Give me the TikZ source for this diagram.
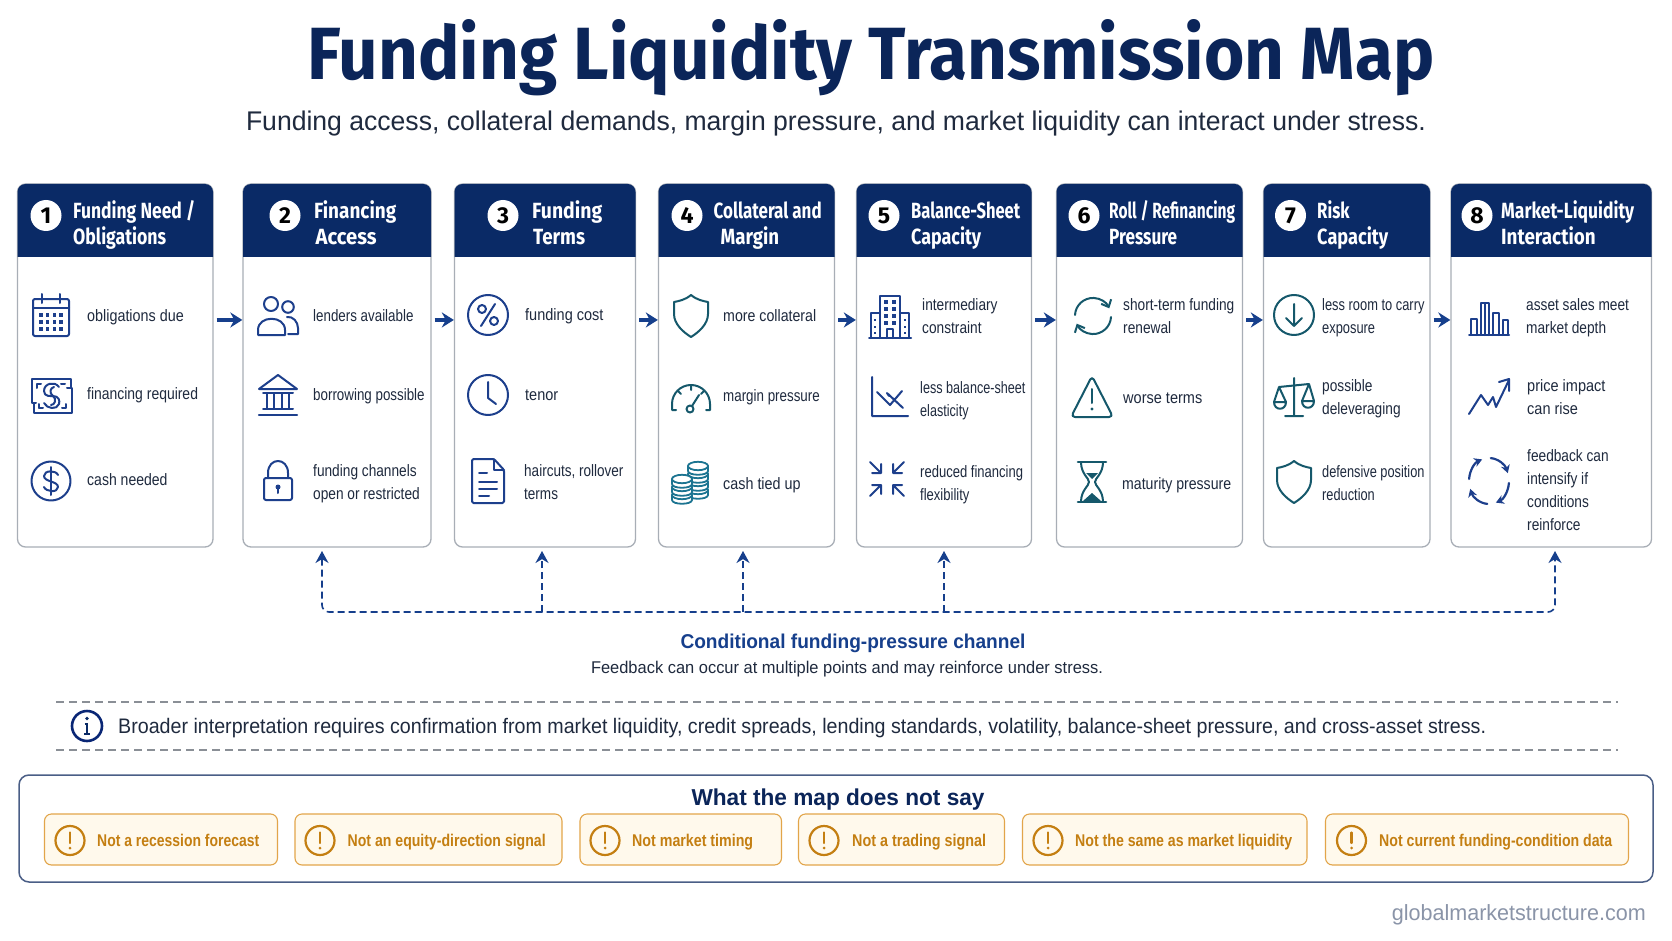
\documentclass[tikz,border=0pt]{standalone}
\usepackage{fontspec}
\usepackage{graphicx}
\usetikzlibrary{arrows.meta,calc}
\setmainfont{Liberation Sans}
\newfontfamily\titlef{Fira Sans}
\definecolor{navy}{HTML}{0A2A66}
\definecolor{titlec}{HTML}{0B2559}
\definecolor{iblue}{HTML}{1D3F8C}
\definecolor{iteal}{HTML}{15586B}
\definecolor{icoin}{HTML}{1C7491}
\definecolor{inkc}{HTML}{1F2A3E}
\definecolor{cardl}{HTML}{A8AEB6}
\definecolor{flowc}{HTML}{163F8C}
\definecolor{orangec}{HTML}{C47F12}
\definecolor{orangel}{HTML}{E2A54A}
\definecolor{pillf}{HTML}{FFF9EC}
\definecolor{boxl}{HTML}{4A5E86}
\definecolor{wmark}{HTML}{8A94A8}
\definecolor{dashg}{HTML}{8A8F96}
\newsavebox\fitbox
\newlength\fitlen
\newcommand\fitw[2]{\sbox\fitbox{#2}\setlength\fitlen{\wd\fitbox}\pgfmathsetmacro\fitr{#1/\fitlen}\scalebox{\fitr}[1]{\usebox\fitbox}}
\newcounter{itemc}
\tikzset{
 x=1pt,y=-1pt,
 cardbox/.style={draw=cardl,line width=1.3pt,rounded corners=8pt,fill=white,inner sep=0pt},
 flow/.style={draw=flowc,line width=3.4pt,shorten <=3pt,-{Stealth[length=12pt,width=15pt]}},
 fbline/.style={draw=flowc,line width=1.6pt,dash pattern=on 7pt off 4pt},
 itemtext/.style={anchor=west,inner sep=0pt,align=left,text=inkc},
 headtext/.style={anchor=base west,inner sep=0pt,text=white},
 numdisc/.style={circle,fill=white,inner sep=0pt,minimum size=31pt,text=black,font=\titlef\bfseries\fontsize{23}{25}\selectfont},
 icon/.style={line width=2pt,line join=round,line cap=round},
 pillbox/.style={draw=orangel,line width=1.1pt,fill=pillf,rounded corners=7pt,inner sep=0pt},
 pilltext/.style={anchor=base west,inner sep=0pt,text=orangec},
}
\newcommand\card[3]{% name, x1, x2
 \node[cardbox,minimum width={#3pt-#2pt},minimum height=363pt] (#1) at ({(#2+#3)/2},365.5) {};
 \fill[navy] (#2,257) {[rounded corners=8pt] -- (#2,184) -- (#3,184)} -- (#3,257) -- cycle;
}
\newcommand\hdfont{\titlef\bfseries\fontsize{22}{25}\selectfont}
\newcommand\hd[8]{% num, circle x, x1, x2, line1, w1, line2, w2
 \node[numdisc] (num#1) at (#2,215.5) {#1};
 \node[headtext] (heada#1) at (#3,218.5) {\fitw{#6}{\hdfont #5}};
 \node[headtext] (headb#1) at (#4,244) {\fitw{#8}{\hdfont #7}};
}
\newcommand\itm[4][.88]{\stepcounter{itemc}\node[itemtext,font={\fontspec[FakeStretch=#1]{Liberation Sans}\fontsize{16.5}{23}\selectfont}] (it\arabic{itemc}) at ({#2},{#3+1}) {\rule{0pt}{12pt}#4\rule[-4pt]{0pt}{4pt}};}
\newcommand\ico[4]{\begin{scope}[shift={(#1,#2)},icon]\colorlet{ic}{#3}#4\end{scope}}
\newcommand\pill[7]{% name x1 x2 cx tx w text
 \node[pillbox,minimum width={#3pt-#2pt},minimum height=51pt] (#1) at ({(#2+#3)/2},839.5) {};
 \draw[draw=orangec,line width=2.2pt] (#4,840.5) circle[radius=14.5pt];
 \draw[draw=orangec,line width=2.2pt,line cap=round] (#4,832.5) -- (#4,843);
 \fill[orangec] (#4,848) circle[radius=1.5pt];
 \node[pilltext] (#1t) at (#5,846.5) {\fitw{#6}{\bfseries\fontsize{17}{19}\selectfont #7}};
}
% icons
\newcommand\icCal{\draw[draw=ic,rounded corners=2pt] (-18,-17) rectangle (18,20);\draw[draw=ic] (-18,-8)--(18,-8) (-9,-22)--(-9,-13) (9,-22)--(9,-13);
 \foreach \u in {-10,-3.3,3.3,10}{\foreach \v in {-1,6,13}{\fill[ic] (\u-1.7,\v-1.7) rectangle (\u+1.7,\v+1.7);}}}
\newcommand\icMoney{\draw[draw=ic] (-20,-17) -- (19,-17) -- (19,-8) (-20,-17) -- (-20,7) -- (-16,7) (-18,7) -- (-18,17) -- (20,17) -- (20,-8) -- (15,-8);
 \draw[draw=ic] (7,-9) .. controls (3,-15) and (-8,-13) .. (-8,-5) .. controls (-8,1) and (-1,0) .. (1,0) .. controls (7,0) and (8,5) .. (7,8) .. controls (5,14) and (-5,13) .. (-8,7);
 \draw[draw=ic] (2,-9) .. controls (-2,-8) and (-3,-3) .. (1,0) .. controls (5,3) and (3,9) .. (-1,9);
 \draw[draw=ic] (-15,-12)--(-11,-12)(-15,-12)--(-15,-8)(14,12)--(10,12)(14,12)--(14,8)(-13,12)--(-9,12)(-13,12)--(-13,8)(13,-12)--(9,-12);}
\newcommand\icDollar{\draw[draw=ic] (0,0) circle[radius=19.5pt];\draw[draw=ic] (7,-6) .. controls (5,-11) and (-7,-11) .. (-7,-5) .. controls (-7,1) and (7,0) .. (7,6) .. controls (7,12) and (-5,11) .. (-7,6);\draw[draw=ic] (0,-14)--(0,14);}
\newcommand\icPeople{\draw[draw=ic] (-7,-12) circle[radius=7pt] (10,-9) circle[radius=5.8pt];
 \draw[draw=ic] (-20,19) -- (-20,14) .. controls (-20,-1) and (7,-1) .. (7,14) -- (7,19) -- cycle;
 \draw[draw=ic] (9,1) .. controls (15,0) and (20,6) .. (20,12) -- (20,18) -- (10,18);}
\newcommand\icBank{\draw[draw=ic] (0,-20) -- (-19,-6) -- (19,-6) -- cycle;\draw[draw=ic] (-15,-2)--(15,-2) (-11,-2)--(-11,13) (-4,-2)--(-4,13) (4,-2)--(4,13) (11,-2)--(11,13) (-15,14)--(15,14);\draw[draw=ic,line width=2.4pt] (-19,20)--(19,20);}
\newcommand\icLock{\draw[draw=ic,rounded corners=2pt] (-14,-3) rectangle (14,19);\draw[draw=ic] (-10,-3) -- (-10,-8) .. controls (-10,-24) and (10,-24) .. (10,-8) -- (10,-3);\fill[ic] (0,6) circle[radius=2.5pt];\draw[draw=ic] (0,6)--(0,12);}
\newcommand\icPct{\draw[draw=ic] (0,0) circle[radius=20pt] (-6,-6) circle[radius=4pt] (6,6) circle[radius=4pt];\draw[draw=ic] (7,-11)--(-7,11);}
\newcommand\icClock{\draw[draw=ic] (0,0) circle[radius=20pt];\draw[draw=ic] (0,-13)--(0,3)--(8,9);}
\newcommand\icDoc{\draw[draw=ic,rounded corners=1.5pt] (-16,-22)--(6,-22)--(16,-11)--(16,22)--(-16,22)--cycle;\draw[draw=ic] (6,-22)--(6,-11)--(16,-11) (-9,-8)--(-1,-8) (-9,1)--(9,1) (-9,8)--(9,8) (-9,15)--(1,15);}
\newcommand\icShield{\draw[draw=ic] (0,-21) .. controls (-6,-16) and (-12,-15) .. (-17,-14) -- (-17,-2) .. controls (-17,8) and (-8,16) .. (0,21) .. controls (8,16) and (17,8) .. (17,-2) -- (17,-14) .. controls (12,-15) and (6,-16) .. (0,-21) -- cycle;}
\newcommand\icGauge{\draw[draw=ic] (-15,13) -- (-19,13) -- (-19,7) arc[start angle=180,end angle=0,radius=19pt] -- (19,13) -- (15,13);
 \draw[draw=ic] (0,-12)--(0,-7) (-13,-6)--(-10,-3) (13,-6)--(10,-3) (-1,12) circle[radius=3.5pt] (1,9)--(8,-2);}
\newcommand\coin[2]{\draw[draw=ic,fill=white] (#1-10,#2) -- (#1-10,#2+5) .. controls (#1-10,#2+10) and (#1+10,#2+10) .. (#1+10,#2+5) -- (#1+10,#2);\draw[draw=ic,fill=white] (#1,#2) ellipse[x radius=10pt,y radius=4.2pt];}
\newcommand\icCoins{\begin{scope}[line width=1.8pt]\coin{7}{8}\coin{7}{0}\coin{7}{-8}\coin{7}{-16}\coin{-9}{13}\coin{-9}{5}\coin{-9}{-3}\end{scope}}
\newcommand\icBldg{\draw[draw=ic] (-10,21)--(-10,-21)--(10,-21)--(10,21) (-10,-4)--(-19,-4)--(-19,21) (10,-4)--(19,-4)--(19,21) (-21,21)--(21,21) (-3,21)--(-3,12)--(3,12)--(3,21);
 \foreach \u in {-4,4}{\foreach \v in {-15,-8,-1,6}{\fill[ic] (\u-1.6,\v-1.6) rectangle (\u+1.6,\v+1.6);}}
 \foreach \u in {-15,15}{\foreach \v in {3,10,16}{\fill[ic] (\u-1.4,\v-1.4) rectangle (\u+1.4,\v+1.4);}}}
\newcommand\icChart{\draw[draw=ic] (-18,-20)--(-18,19)--(18,19) (-13,-5)--(0,8)--(12,-6) (-3,-4)--(-1,-1) (-3,-4)--(13,11);}
\newcommand\icCompress{\draw[draw=ic] (-17,-17)--(-6,-6) (-6,-15)--(-6,-6)--(-15,-6) (17,-17)--(6,-6) (6,-15)--(6,-6)--(15,-6) (-17,17)--(-6,6) (-6,15)--(-6,6)--(-15,6) (17,17)--(6,6) (6,15)--(6,6)--(15,6);}
\newcommand\icCycle{\draw[draw=ic,-{Straight Barb[length=6pt,width=11pt]}] (-18,-1) arc[start angle=177,end angle=25,radius=18pt];\draw[draw=ic,-{Straight Barb[length=6pt,width=11pt]}] (18,1) arc[start angle=-3,end angle=-155,radius=18pt];}
\newcommand\icWarn{\draw[draw=ic,rounded corners=4pt] (0,-21)--(21,20)--(-21,20)--cycle;\draw[draw=ic] (0,-8)--(0,6);\fill[ic] (0,12) circle[radius=1.7pt];}
\newcommand\icHour{\draw[draw=ic,line width=2.6pt] (-14,-20)--(14,-20) (-14,20)--(14,20);\draw[draw=ic] (-11,-20) .. controls (-11,-8) and (-3,-4) .. (-3,0) .. controls (-3,4) and (-11,8) .. (-11,20) (11,-20) .. controls (11,-8) and (3,-4) .. (3,0) .. controls (3,4) and (11,8) .. (11,20);\fill[ic] (-6,-9)--(6,-9)--(0,-3)--cycle (-9,19)--(0,11)--(9,19)--cycle;}
\newcommand\icDown{\draw[draw=ic] (0,0) circle[radius=20pt];\draw[draw=ic] (0,-11)--(0,11) (-8,3)--(0,11)--(8,3);}
\newcommand\icScale{\draw[draw=ic] (-15,-11)--(15,-14) (0,-20)--(0,18) (-9,18)--(9,18) (-15,-11)--(-20,4) (-15,-11)--(-8,4) (15,-14)--(20,3) (15,-14)--(8,3);
 \draw[draw=ic] (-20,4) .. controls (-20,13) and (-8,13) .. (-8,4) -- cycle (8,3) .. controls (8,12) and (20,12) .. (20,3) -- cycle;}
\newcommand\icBars{\draw[draw=ic] (-20,17)--(20,17) (-18,17)--(-18,1)--(-12,1)--(-12,17) (-8,17)--(-8,-15)--(0,-15)--(0,17) (-4,-15)--(-4,17) (4,17)--(4,-5)--(10,-5)--(10,17) (14,17)--(14,2)--(19,2)--(19,17);}
\newcommand\icZig{\draw[draw=ic] (-20,17)--(-8,-2)--(-1,8)--(4,0)--(7,10)--(20,-17) (10,-15)--(20,-18)--(20,-6);}
\newcommand\icLoop{\foreach \a in {85,-5,-95,175}{\draw[draw=ic,line width=2.2pt,-{Stealth[length=8pt,width=9pt]}] ({20*cos(\a)},{-23*sin(\a)}) arc[start angle=\a,end angle={\a-65},x radius=20pt,y radius=23pt];}}
\begin{document}
\begin{tikzpicture}
\useasboundingbox (0,0) rectangle (1672,941);
\fill[white] (0,0) rectangle (1672,941);
\node[inner sep=0pt,text=titlec] (title) at (871,58) {\fitw{1127}{\titlef\bfseries\fontsize{74}{78}\selectfont Funding Liquidity Transmission Map}};
\node[inner sep=0pt,text=inkc] (subtitle) at (836,124) {\fitw{1180}{\fontsize{27}{30}\selectfont Funding access, collateral demands, margin pressure, and market liquidity can interact under stress.}};
% cards
\card{c1}{17.5}{213}
\card{c2}{243}{431}
\card{c3}{454.5}{635.5}
\card{c4}{658.5}{834.5}
\card{c5}{856.5}{1031.5}
\card{c6}{1056.5}{1242.5}
\card{c7}{1263.5}{1430}
\card{c8}{1451}{1651.5}
\hd{1}{46}{73}{73}{Funding Need /}{122}{Obligations}{93}
\hd{2}{285}{314}{315.5}{Financing}{82}{Access}{61}
\hd{3}{503}{532}{533}{Funding}{70}{Terms}{52}
\hd{4}{687}{713.5}{720.5}{Collateral and}{108}{Margin}{58.5}
\hd{5}{884}{911}{911}{Balance-Sheet}{109}{Capacity}{70}
\hd{6}{1084}{1109}{1109}{Roll / Refinancing}{126}{Pressure}{68}
\hd{7}{1290.5}{1317}{1317}{Risk}{32.5}{Capacity}{71}
\hd{8}{1477}{1501}{1501}{Market-Liquidity}{133}{Interaction}{94.5}
% flow arrows
\foreach \a/\b in {c1/c2,c2/c3,c3/c4,c4/c5,c5/c6,c6/c7,c7/c8}{
 \draw[flow] ($(\a.north east)!0.375!(\a.south east)$) -- ($(\b.north west)!0.375!(\b.south west)$);}
% items
\ico{51}{316}{iblue}{\icCal}\itm[.87]{87}{316}{obligations due}
\ico{52}{396}{iblue}{\icMoney}\itm[.845]{87}{394}{financing required}
\ico{51}{481}{iblue}{\icDollar}\itm[.85]{87}{480}{cash needed}
\ico{278}{316}{iblue}{\icPeople}\itm[.81]{313}{316}{lenders available}
\ico{278}{395}{iblue}{\icBank}\itm[.81]{313}{395}{borrowing possible}
\ico{278}{481}{iblue}{\icLock}\itm[.83]{313}{482.5}{funding channels\\open or restricted}
\ico{488}{315}{iblue}{\icPct}\itm{525}{315}{funding cost}
\ico{488}{395}{iblue}{\icClock}\itm{525}{395}{tenor}
\ico{488}{481}{iblue}{\icDoc}\itm[.82]{524}{482.5}{haircuts, rollover\\terms}
\ico{691}{316}{iteal}{\icShield}\itm[.86]{723}{316}{more collateral}
\ico{691}{397}{iteal}{\icGauge}\itm[.81]{723}{396}{margin pressure}
\ico{691}{482}{icoin}{\icCoins}\itm[.87]{723}{484}{cash tied up}
\ico{890}{317}{iblue}{\icBldg}\itm[.83]{922}{316.5}{intermediary\\constraint}
\ico{890}{397}{iblue}{\icChart}\itm[.765]{920}{399.5}{less balance-sheet\\elasticity}
\ico{887}{479}{iblue}{\icCompress}\itm[.79]{920}{483.5}{reduced financing\\flexibility}
\ico{1093}{316}{iteal}{\icCycle}\itm[.83]{1123}{316.5}{short-term funding\\renewal}
\ico{1092}{397}{iteal}{\icWarn}\itm{1123}{398}{worse terms}
\ico{1092}{482}{iteal}{\icHour}\itm[.855]{1122}{484}{maturity pressure}
\ico{1294}{315}{iteal}{\icDown}\itm[.78]{1322}{316.5}{less room to carry\\exposure}
\ico{1294}{398}{iteal}{\icScale}\itm[.83]{1322}{397.5}{possible\\deleveraging}
\ico{1294}{482}{iteal}{\icShield}\itm[.775]{1322}{483.5}{defensive position\\reduction}
\ico{1489}{318}{iblue}{\icBars}\itm[.83]{1526}{316.5}{asset sales meet\\market depth}
\ico{1489}{397}{iblue}{\icZig}\itm{1527}{397.5}{price impact\\can rise}
\ico{1489}{481}{iblue}{\icLoop}\itm[.83]{1527}{490.5}{feedback can\\intensify if\\conditions\\reinforce}
% feedback channel
\coordinate (f2) at (322,551);\coordinate (b2) at (322,612);
\coordinate (f3) at (542,551);\coordinate (b3) at (542,612);
\coordinate (f4) at (743,551);\coordinate (b4) at (743,612);
\coordinate (f5) at (944,551);\coordinate (b5) at (944,612);
\coordinate (f8) at (1555,551);\coordinate (b8) at (1555,612);
\draw[fbline,rounded corners=7pt,{Stealth[length=12pt,width=13pt]}-{Stealth[length=12pt,width=13pt]}] (f2) -- (b2) -- (b8) -- (f8);
\foreach \i in {3,4,5}{\draw[fbline,-{Stealth[length=12pt,width=13pt]}] (b\i) -- (f\i);}
\node[inner sep=0pt,text=flowc] (chan) at (853,643) {\fitw{345}{\bfseries\fontsize{20}{24}\selectfont Conditional funding-pressure channel}};
\node[inner sep=0pt,text=inkc] (chansub) at (847,669.5) {\fitw{512}{\fontsize{17}{20}\selectfont Feedback can occur at multiple points and may reinforce under stress.}};
% interpretation band
\coordinate (d1a) at (56,702);\coordinate (d1b) at (1618,702);\coordinate (d2a) at (56,750);\coordinate (d2b) at (1618,750);
\draw[draw=dashg,line width=1.2pt,dash pattern=on 8pt off 5pt] (d1a) -- (d1b);
\draw[draw=dashg,line width=1.2pt,dash pattern=on 8pt off 5pt] (d2a) -- (d2b);
\begin{scope}[shift={(87,726)}]
 \draw[draw=navy!90!blue,line width=2.6pt] (0,0) circle[radius=15pt];
 \fill[navy] (0,-7.5) circle[radius=1.8pt];
 \draw[draw=navy,line width=2pt] (-2.5,-2.5)--(0,-2.5)--(0,7.5) (-3,7.5)--(3,7.5);
\end{scope}
\node[anchor=west,inner sep=0pt,text=inkc] (note) at (118,728.5) {\fitw{1368}{\fontsize{21}{24}\selectfont Broader interpretation requires confirmation from market liquidity, credit spreads, lending standards, volatility, balance-sheet pressure, and cross-asset stress.}};
% bottom box
\node[draw=boxl,line width=1.5pt,rounded corners=10pt,inner sep=0pt,minimum width=1634pt,minimum height=107pt] (notbox) at (836,828.5) {};
\node[inner sep=0pt,text=titlec] (nothead) at (838,800) {\fitw{293}{\bfseries\fontsize{23}{26}\selectfont What the map does not say}};
\pill{p1}{44.5}{277.5}{70}{97}{162}{Not a recession forecast}
\pill{p2}{295}{562}{320}{347.5}{198}{Not an equity-direction signal}
\pill{p3}{580}{781.5}{605}{632}{121}{Not market timing}
\pill{p4}{798.5}{1004.5}{824}{852}{134}{Not a trading signal}
\pill{p5}{1022.5}{1307}{1048}{1075}{217}{Not the same as market liquidity}
\pill{p6}{1325.5}{1628.5}{1351.5}{1379}{233}{Not current funding-condition data}
\node[anchor=east,inner sep=0pt,text=wmark] (wm) at (1646,915) {\fitw{254}{\fontsize{22}{26}\selectfont globalmarketstructure.com}};
\end{tikzpicture}
\end{document}
